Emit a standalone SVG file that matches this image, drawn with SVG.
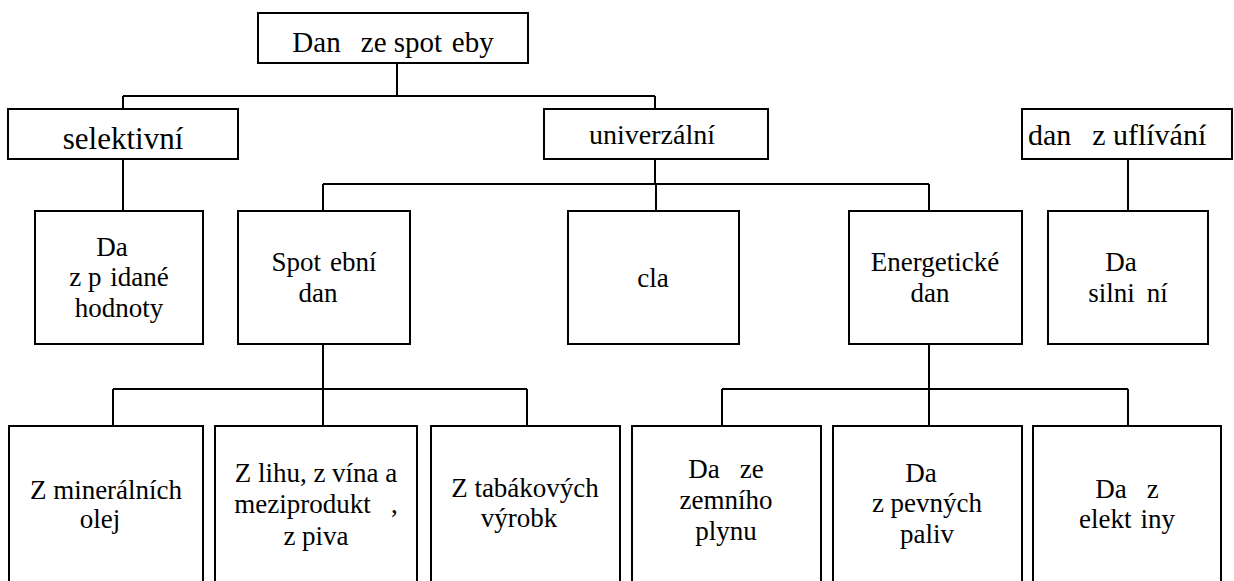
<svg xmlns="http://www.w3.org/2000/svg" width="1234" height="581" viewBox="0 0 1234 581">
<style>
.box{fill:#fff;stroke:#000;stroke-width:2}
.ln{stroke:#000;stroke-width:2;fill:none}
</style>
<rect x="0" y="0" width="1234" height="581" fill="#fff"/>
<g id="connectors">
<path class="ln" d="M397 63V96M123 96H655M123 96V109M655 96V109"/>
<path class="ln" d="M123 159V211"/>
<path class="ln" d="M655 159V184M323 184H929M323 184V211M656 184V211M929 184V211"/>
<path class="ln" d="M1128 159V211"/>
<path class="ln" d="M323 344V389M113 389H527M113 389V426M323 389V426M527 389V426"/>
<path class="ln" d="M929 344V389M722 389H1128M722 389V426M929 389V426M1128 389V426"/>
</g>
<g id="n-root">
<rect class="box" x="258" y="13" width="270" height="50"/>
<text font-family="Times New Roman" font-size="29" text-anchor="middle" x="393" y="52">Dan<tspan dx="12.9"> ze spot</tspan><tspan dx="2.4"> eby</tspan></text>
</g>
<g id="n-selektivni">
<rect class="box" x="8" y="109" width="230" height="50"/>
<text font-family="Times New Roman" font-size="31" text-anchor="middle" x="123" y="149">selektivní</text>
</g>
<g id="n-univerzalni">
<rect class="box" x="544" y="109" width="224" height="50"/>
<text font-family="Times New Roman" font-size="28" text-anchor="middle" x="652" y="144">univerzální</text>
</g>
<g id="n-uflivani">
<rect class="box" x="1022" y="109" width="210" height="50"/>
<text font-family="Times New Roman" font-size="30" x="1028" y="145">dan<tspan dx="13.3"> z uflívání</tspan></text>
</g>
<g id="n-dph">
<rect class="box" x="35" y="211" width="168" height="133"/>
<text font-family="Times New Roman" font-size="27" text-anchor="middle" x="112" y="256">Da</text>
<text font-family="Times New Roman" font-size="27" text-anchor="middle" x="119" y="286">z p<tspan dx="2.2"> idané</tspan></text>
<text font-family="Times New Roman" font-size="27" text-anchor="middle" x="119" y="317">hodnoty</text>
</g>
<g id="n-spotrebni">
<rect class="box" x="238" y="211" width="172" height="133"/>
<text font-family="Times New Roman" font-size="27" text-anchor="middle" x="324" y="271">Spot<tspan dx="2.2"> ební</tspan></text>
<text font-family="Times New Roman" font-size="27" text-anchor="middle" x="318" y="302">dan</text>
</g>
<g id="n-cla">
<rect class="box" x="568" y="211" width="171" height="133"/>
<text font-family="Times New Roman" font-size="27" text-anchor="middle" x="653" y="287">cla</text>
</g>
<g id="n-energeticke">
<rect class="box" x="849" y="211" width="173" height="133"/>
<text font-family="Times New Roman" font-size="27" text-anchor="middle" x="935" y="271">Energetické</text>
<text font-family="Times New Roman" font-size="27" text-anchor="middle" x="930" y="302">dan</text>
</g>
<g id="n-silnicni">
<rect class="box" x="1048" y="211" width="160" height="133"/>
<text font-family="Times New Roman" font-size="27" text-anchor="middle" x="1121" y="271">Da</text>
<text font-family="Times New Roman" font-size="27" text-anchor="middle" x="1128" y="302">silni<tspan dx="5.1"> ní</tspan></text>
</g>
<g id="n-mineralni">
<rect class="box" x="9" y="426" width="194" height="170"/>
<text font-family="Times New Roman" font-size="27" text-anchor="middle" x="106" y="499">Z minerálních</text>
<text font-family="Times New Roman" font-size="27" text-anchor="middle" x="100" y="528">olej</text>
</g>
<g id="n-lih">
<rect class="box" x="215" y="426" width="202" height="170"/>
<text font-family="Times New Roman" font-size="27" text-anchor="middle" x="316" y="482">Z lihu, z vína a</text>
<text font-family="Times New Roman" font-size="27" text-anchor="middle" x="316" y="513">meziprodukt<tspan dx="13.3"> ,</tspan></text>
<text font-family="Times New Roman" font-size="27" text-anchor="middle" x="316" y="545">z piva</text>
</g>
<g id="n-tabak">
<rect class="box" x="431" y="426" width="189" height="170"/>
<text font-family="Times New Roman" font-size="27" text-anchor="middle" x="525" y="497">Z tabákových</text>
<text font-family="Times New Roman" font-size="27" text-anchor="middle" x="519" y="527">výrobk</text>
</g>
<g id="n-plyn">
<rect class="box" x="632" y="426" width="189" height="170"/>
<text font-family="Times New Roman" font-size="27" text-anchor="middle" x="726" y="478">Da<tspan dx="13.3"> ze</tspan></text>
<text font-family="Times New Roman" font-size="27" text-anchor="middle" x="726" y="509">zemního</text>
<text font-family="Times New Roman" font-size="27" text-anchor="middle" x="726" y="540">plynu</text>
</g>
<g id="n-paliva">
<rect class="box" x="833" y="426" width="189" height="170"/>
<text font-family="Times New Roman" font-size="27" text-anchor="middle" x="921" y="482">Da</text>
<text font-family="Times New Roman" font-size="27" text-anchor="middle" x="927" y="512">z pevných</text>
<text font-family="Times New Roman" font-size="27" text-anchor="middle" x="927" y="543">paliv</text>
</g>
<g id="n-elektrina">
<rect class="box" x="1033" y="426" width="188" height="170"/>
<text font-family="Times New Roman" font-size="27" text-anchor="middle" x="1127" y="498">Da<tspan dx="13.3"> z</tspan></text>
<text font-family="Times New Roman" font-size="27" text-anchor="middle" x="1127" y="528">elekt<tspan dx="2.2"> iny</tspan></text>
</g>
</svg>
